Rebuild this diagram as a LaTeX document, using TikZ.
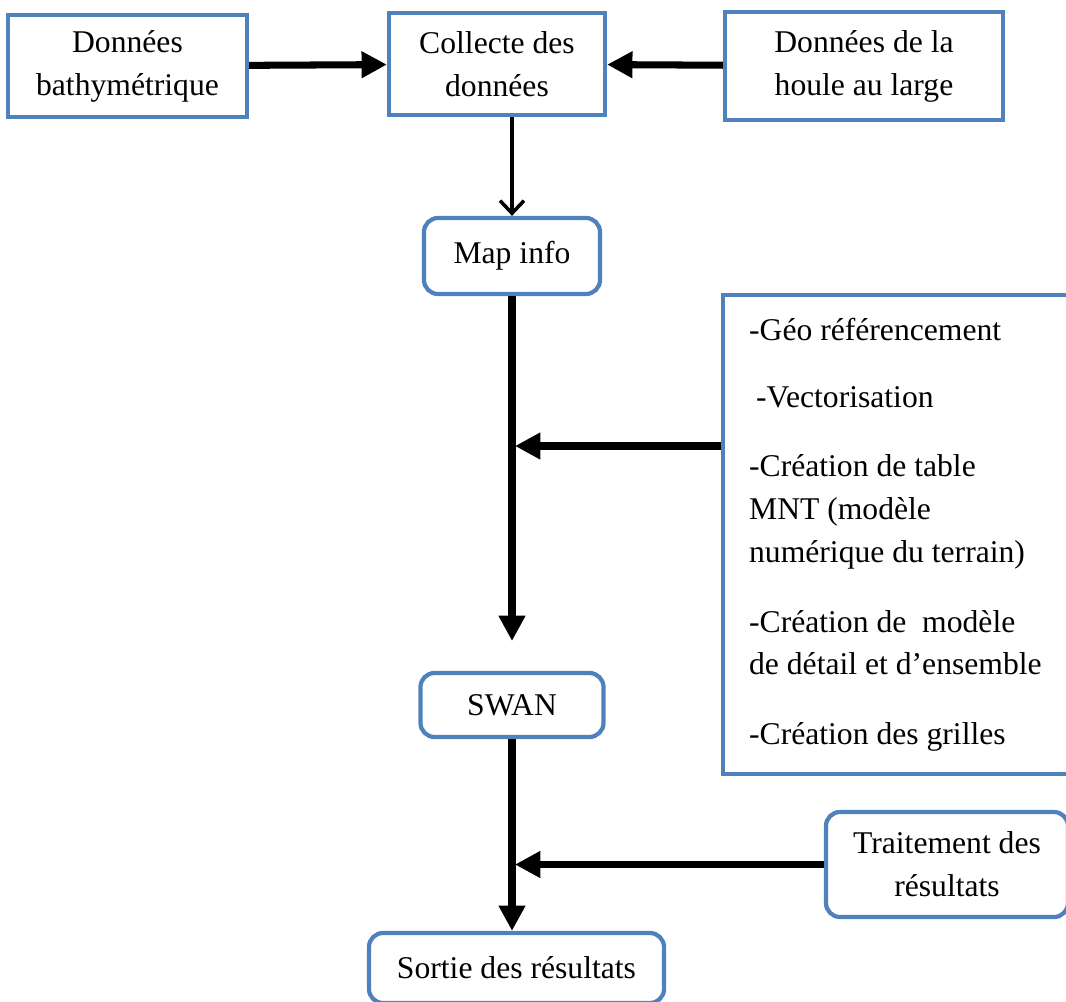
\documentclass[tikz,border=0pt]{standalone}
\usepackage{fontspec}
\setmainfont{Liberation Serif}
\usetikzlibrary{arrows.meta}
\definecolor{boxblue}{RGB}{79,129,189}
\begin{document}
\begin{tikzpicture}[x=0.025cm,y=-0.025cm,
 every node/.style={font=\fontsize{22.5}{30.5}\selectfont},
 box/.style={draw=boxblue,line width=3pt,fill=white,align=center,inner sep=0pt},
 rbox/.style={box,rounded corners=10pt},
 arr/.style={line width=5pt,-{Triangle[length=18pt,width=18pt]}}]
 \useasboundingbox (0,0) rectangle (1066,1001);
 % top row
 \node[box,minimum width=5.975cm,minimum height=2.55cm] (bathy) at (127.5,66) {Données\\bathymétrique};
 \node[box,minimum width=5.4cm,minimum height=2.55cm] (collecte) at (497,64) {Collecte des\\données};
 \node[box,minimum width=6.95cm,minimum height=2.7cm] (houle) at (864,66) {Données de la\\houle au large};
 % main column
 \node[rbox,minimum width=4.4cm,minimum height=1.9cm] (map) at (512,256) {Map info};
 \node[rbox,minimum width=4.575cm,minimum height=1.6cm] (swan) at (512,705) {SWAN};
 \node[rbox,minimum width=7.375cm,minimum height=1.75cm] (sortie) at (516.5,968) {Sortie des résultats};
 % side boxes
 \node[box,anchor=north west,align=flush left,inner xsep=0.65cm,text width=7.55cm,minimum height=11.975cm] (liste) at (721,293)
  {-Géo référencement\\[17pt]
   \hspace{5pt}-Vectorisation\\[19pt]
   -Création de table\\MNT (modèle\\numérique du terrain)\\[19pt]
   -Création de\ \ modèle\\de détail et d’ensemble\\[19pt]
   -Création des grilles};
 \node[rbox,minimum width=6.05cm,minimum height=2.625cm] (traitement) at (947,864.5) {Traitement des\\résultats};
 % connectors
 \coordinate (swanin) at (512,641);
 \coordinate (j1) at (515,446);
 \coordinate (j2) at (515,864.5);
 \draw[arr] (bathy) -- (collecte);
 \draw[arr] (houle) -- (collecte);
 \draw[line width=2.5pt,-{Straight Barb[length=9pt,width=17pt,line width=2.5pt]}] (collecte.south -| map.north) -- (map.north);
 \draw[arr] (map.south) -- (swanin);
 \draw[arr] (liste.west |- j1) -- (j1);
 \draw[arr] (swan.south) -- (swan.south |- sortie.north);
 \draw[arr] (traitement) -- (j2);
\end{tikzpicture}
\end{document}
